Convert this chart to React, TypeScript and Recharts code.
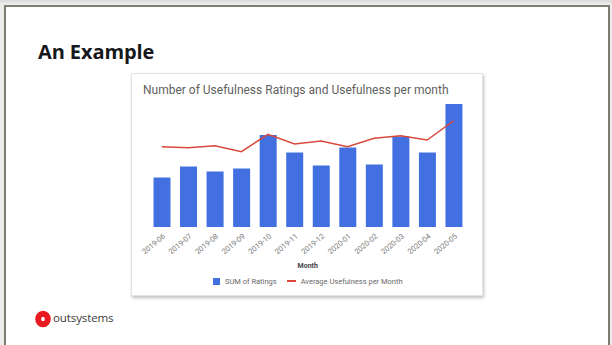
import React from 'react';
import { ComposedChart, Bar, Line, XAxis, YAxis, Legend } from 'recharts';

const months = ['2019-06', '2019-07', '2019-08', '2019-09', '2019-10', '2019-11', '2019-12', '2020-01', '2020-02', '2020-03', '2020-04', '2020-05'];
const sumRatings = [99, 121, 111, 117, 184, 149, 123, 159, 125, 181, 149, 246];
const avgUsefulness = [3.21, 3.17, 3.25, 3.01, 3.71, 3.32, 3.44, 3.21, 3.55, 3.65, 3.48, 4.25];
const seriesNames = ['SUM of Ratings', 'Average Usefulness per Month'];

const data = months.map((m, i) => ({ month: m, sum: sumRatings[i], avg: avgUsefulness[i] }));

const BLUE = '#4270e0';
const RED = '#d9483b';

const Tick = (props: any) => {
  const { x, y, payload } = props;
  return (
    <g transform={`translate(${x + 4},${y + 2}) rotate(-40)`}>
      <text x={0} y={0} textAnchor="end" fontSize={7.5} fill="#7a7a7a" fontFamily="Roboto">
        {payload.value}
      </text>
    </g>
  );
};

const LegendContent = () => (
  <div style={{ height: 14, display: 'flex', alignItems: 'center', justifyContent: 'center', fontFamily: 'Roboto', fontSize: 7.5, color: '#6a6a6a' }}>
    <span style={{ display: 'inline-block', width: 7, height: 7, background: BLUE, marginRight: 5 }} />
    <span style={{ marginRight: 10 }}>{seriesNames[0]}</span>
    <span style={{ display: 'inline-block', width: 9, height: 2, background: RED, marginRight: 5 }} />
    <span>{seriesNames[1]}</span>
  </div>
);

export default function App() {
  return (
    <div style={{ position: 'absolute', left: 0, top: 0, width: 612, height: 345, overflow: 'hidden', background: 'linear-gradient(#d9d9d9, #ececec 4px, #ececec)' }}>
      <div style={{ position: 'absolute', left: 4, top: 4.5, width: 602, height: 345, border: '2px solid #7f7b71', borderBottom: 'none', background: '#fff', boxSizing: 'content-box' }} />
      <div style={{ position: 'absolute', left: 38, top: 38, fontFamily: 'Open Sans', fontWeight: 700, fontSize: 20, color: '#16181c', letterSpacing: -0.1 }}>
        An Example
      </div>
      <div style={{ position: 'absolute', left: 131, top: 73, width: 352, height: 223, background: '#fff', border: '1px solid #e4e4e4', boxSizing: 'border-box', boxShadow: '1px 2px 3px rgba(0,0,0,0.25)' }}>
        <div style={{ position: 'absolute', left: 11, top: 9, fontFamily: 'Roboto', fontSize: 12, color: '#5f5f5f', whiteSpace: 'nowrap' }}>
          Number of Usefulness Ratings and Usefulness per month
        </div>
        <div style={{ position: 'absolute', left: -1, top: -1 }}>
          <ComposedChart width={352} height={223} data={data} margin={{ top: 29, right: 16, left: 17.5, bottom: 8 }}>
            <XAxis
              dataKey="month"
              axisLine={false}
              tickLine={false}
              interval={0}
              height={47}
              tick={<Tick />}
              label={{ value: 'Month', position: 'insideBottom', offset: 6, fontSize: 7, fontWeight: 700, fill: '#444', fontFamily: 'Roboto' }}
            />
            <YAxis yAxisId="left" hide domain={[0, 250]} />
            <YAxis yAxisId="right" orientation="right" hide domain={[0, 5]} />
            <Legend verticalAlign="bottom" content={<LegendContent />} />
            <Bar yAxisId="left" dataKey="sum" name={seriesNames[0]} fill={BLUE} barSize={17} isAnimationActive={false} />
            <Line yAxisId="right" dataKey="avg" name={seriesNames[1]} stroke={RED} strokeWidth={1.5} dot={false} type="linear" isAnimationActive={false} />
          </ComposedChart>
        </div>
      </div>
      <svg style={{ position: 'absolute', left: 34, top: 310 }} width={18} height={18}>
        <ellipse cx={9} cy={9} rx={4.8} ry={5.3} fill="none" stroke="#e8191f" strokeWidth={6} />
      </svg>
      <div style={{ position: 'absolute', left: 53, top: 310, fontFamily: 'Open Sans', fontSize: 11.5, color: '#3a3a3a', letterSpacing: -0.1 }}>
        outsystems
      </div>
    </div>
  );
}
